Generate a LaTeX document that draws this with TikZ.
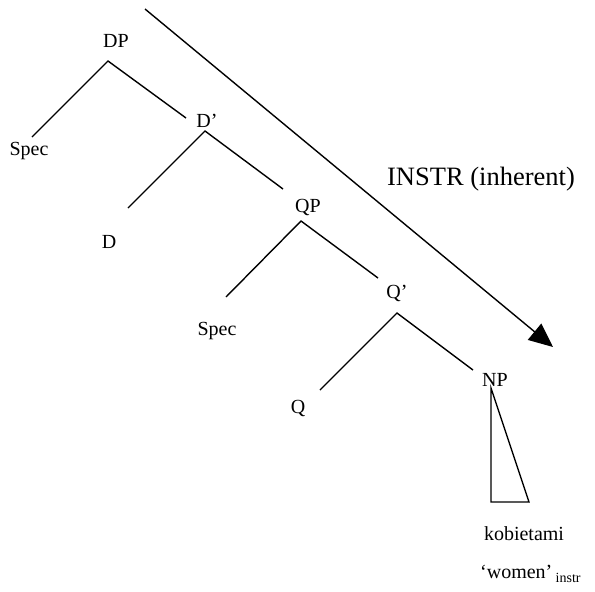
\documentclass[tikz,border=0pt]{standalone}
\usepackage{fontspec}
\setmainfont{Liberation Serif}
\usetikzlibrary{arrows.meta}
\begin{document}
\begin{tikzpicture}[x=1pt,y=-1pt,
  lbl/.style={anchor=base,inner sep=0pt,font=\fontsize{20}{24}\selectfont},
  branch/.style={line width=1.4pt},
  caselbl/.style={anchor=base,inner sep=0pt,font=\fontsize{26.5}{30}\selectfont}]
\useasboundingbox (0,0) rectangle (595,592);

% category labels
\node[lbl] (DP) at (116,47) {DP};
\node[lbl] (spec1) at (29,155) {Spec};
\node[lbl] (Dbar) at (207,127) {D’};
\node[lbl] (D) at (109,248) {D};
\node[lbl] (QP) at (308,212) {QP};
\node[lbl] (spec2) at (217,335) {Spec};
\node[lbl] (Qbar) at (397,298) {Q’};
\node[lbl] (Q) at (298,413) {Q};
\node[lbl] (NP) at (495,386) {NP};
\node[lbl] (word) at (524,540) {kobietami};
\node[lbl,anchor=base west] (gloss) at (480,578) {‘women’\,{\fontsize{14}{16}\selectfont\raisebox{-4pt}{instr}}};
\node[caselbl] (case) at (481,185) {INSTR (inherent)};

% branch points and branch ends
\coordinate (dpTop) at (108,61);
\coordinate (dpL) at (32,137);
\coordinate (dpR) at (186,118);
\coordinate (dbTop) at (205,131);
\coordinate (dbL) at (128,208);
\coordinate (dbR) at (283,189);
\coordinate (qpTop) at (301,221);
\coordinate (qpL) at (226,297);
\coordinate (qpR) at (378,278);
\coordinate (qbTop) at (397,313);
\coordinate (qbL) at (320,390);
\coordinate (qbR) at (473,370);
\coordinate (npTop) at (491,388);
\coordinate (npBL) at (491,502);
\coordinate (npBR) at (529,502);

\draw[branch] (dpL) -- (dpTop) -- (dpR);
\draw[branch] (dbL) -- (dbTop) -- (dbR);
\draw[branch] (qpL) -- (qpTop) -- (qpR);
\draw[branch] (qbL) -- (qbTop) -- (qbR);
\draw[branch] (npTop) -- (npBL) -- (npBR) -- cycle;

% case-assignment arrow
\coordinate (arrS) at (145,9);
\coordinate (arrE) at (553,347);
\draw[branch,-{Triangle[length=24pt,width=21pt]}] (arrS) -- (arrE);
\end{tikzpicture}
\end{document}
